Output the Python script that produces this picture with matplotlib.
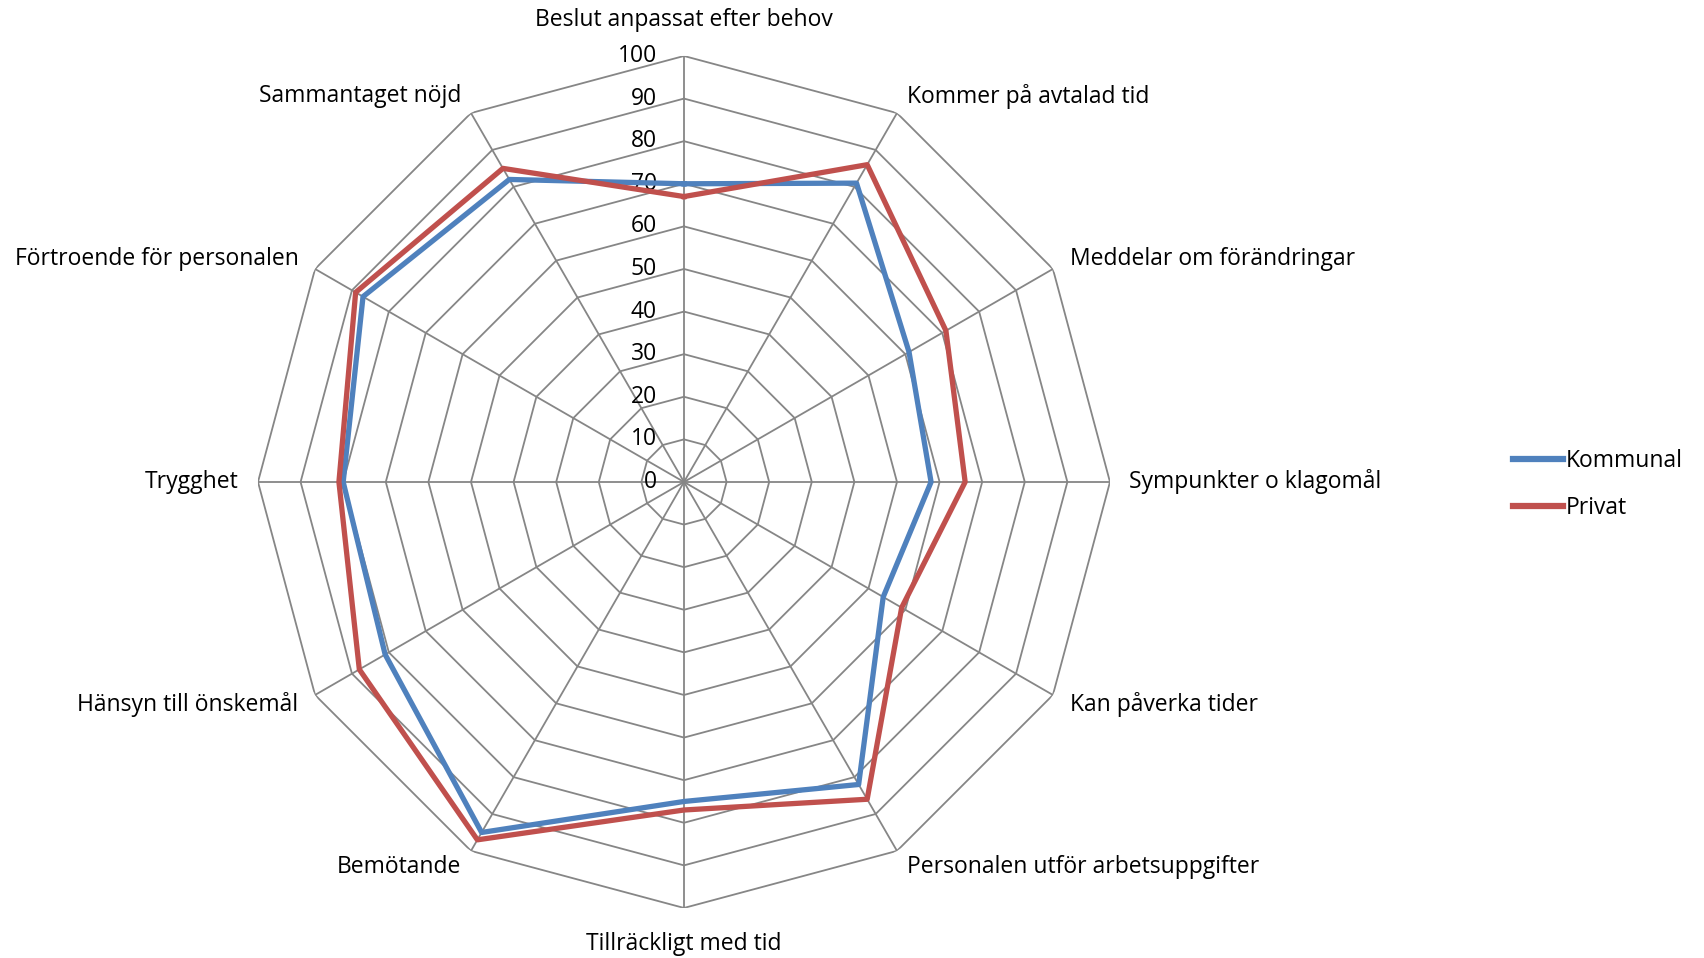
import numpy as np
import matplotlib.pyplot as plt

plt.rcParams['font.family'] = ['Open Sans', 'DejaVu Sans']

categories = ['Beslut anpassat efter behov', 'Kommer på avtalad tid', 'Meddelar om förändringar',
              'Sympunkter o klagomål', 'Kan påverka tider', 'Personalen utför arbetsuppgifter',
              'Tillräckligt med tid', 'Bemötande', 'Hänsyn till önskemål', 'Trygghet',
              'Förtroende för personalen', 'Sammantaget nöjd']
kommunal = [70, 81, 61, 58, 54, 82, 75, 95, 81, 80, 87, 82]
privat = [67, 86, 71, 66, 59, 86, 77, 97, 88, 81, 89, 85]
rings = [0, 10, 20, 30, 40, 50, 60, 70, 80, 90, 100]

grid_col = '#868686'
fs = 16.5

n = len(categories)
theta = np.linspace(0, 2 * np.pi, n, endpoint=False)
closed = np.append(theta, theta[0])

fig = plt.figure(figsize=(17.04, 9.58), dpi=100)
ax = fig.add_axes([0.1514, 0.0522, 0.5, 0.8894], projection='polar')
ax.set_theta_offset(np.pi / 2)
ax.set_theta_direction(-1)
ax.set_ylim(0, 100)
ax.grid(False)
ax.spines['polar'].set_visible(False)
ax.set_xticks([])
ax.set_yticks([])
ax.patch.set_visible(False)

# polygon grid + spokes
for r in rings[1:]:
    ax.plot(closed, [r] * (n + 1), color=grid_col, lw=1.3, zorder=1)
for t in theta:
    ax.plot([t, t], [0, 100], color=grid_col, lw=1.3, zorder=1)

ax.plot(closed, kommunal + kommunal[:1], color='#4F81BD', lw=3.8, label='Kommunal', zorder=3)
ax.plot(closed, privat + privat[:1], color='#C0504D', lw=3.8, label='Privat', zorder=3)

# value labels along the top spoke
for r in rings:
    ax.annotate(str(r), xy=(0, r), xytext=(-19.5, 0), textcoords='offset points',
                ha='right', va='center', fontsize=fs, zorder=2)

# category labels
for t, lab in zip(theta, categories):
    deg = np.degrees(t) % 360
    if deg < 1 or abs(deg - 180) < 1:
        ax.text(t, 108.5, lab, ha='center', va='center', fontsize=fs)
    elif deg < 180:
        ax.text(t, 104.5, lab, ha='left', va='center', fontsize=fs)
    else:
        ax.text(t, 104.5, lab, ha='right', va='center', fontsize=fs)

leg = fig.legend(loc='center left', bbox_to_anchor=(0.876, 0.494), frameon=False, fontsize=fs,
                 handlelength=2.15, handletextpad=0.15, labelspacing=1.0)
for h in leg.get_lines():
    h.set_linewidth(4.5)

fig.savefig('out.png', dpi=100)
